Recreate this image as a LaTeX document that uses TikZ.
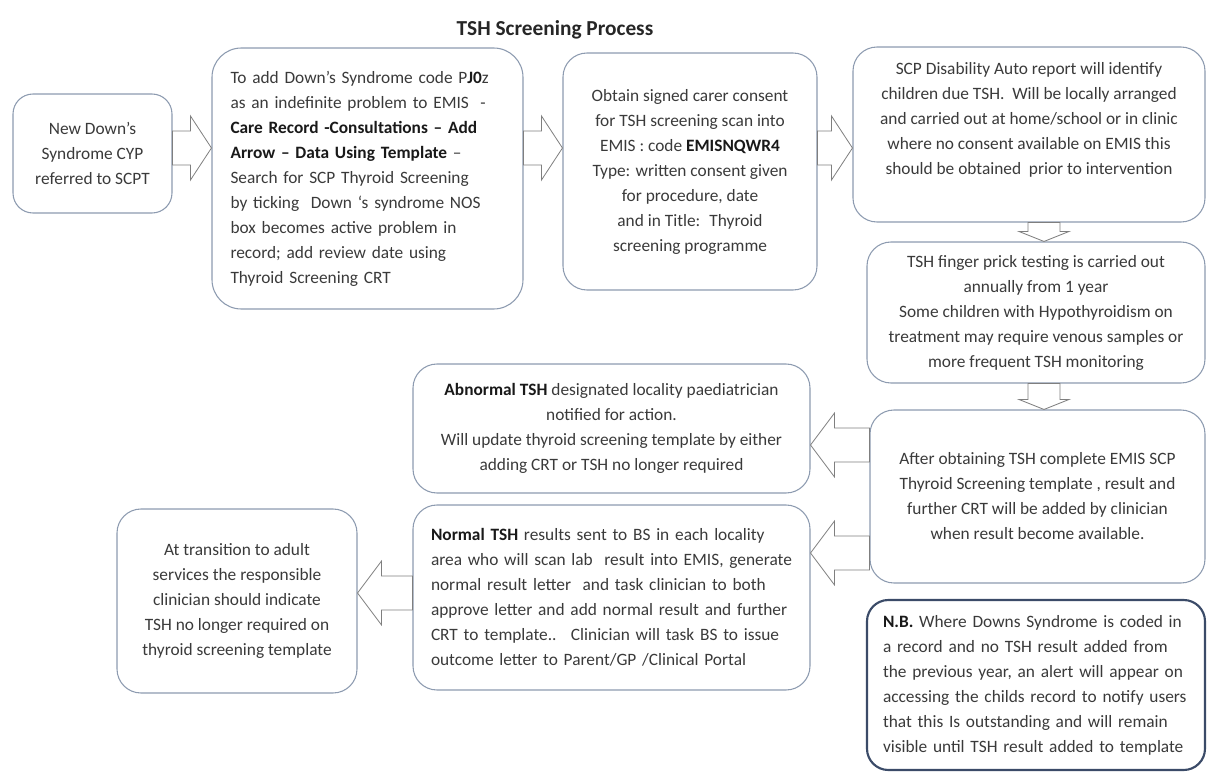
\documentclass[tikz,border=0pt]{standalone}
\usepackage{fontspec}
\setmainfont{Carlito}
\usetikzlibrary{calc}

\definecolor{boxline}{HTML}{8D9BB0}
\definecolor{arrowline}{HTML}{7F7F7F}
\definecolor{textgrey}{HTML}{3A3A3A}
\definecolor{nbline}{HTML}{3B4B68}

\newcommand{\boxfont}{\fontsize{13}{18.75}\selectfont}
\newcommand{\bfdark}[1]{\textbf{\color{black!90}#1}}

% block arrows between boxes: tail node, tip node, level coordinate
\newcommand{\rightblock}[3]{%
  \draw[blockarrow] ($(#1.east |- #3)+(0,-17)$) -- ($(#2.west |- #3)+(-21,-17)$) -- ++(0,-15)
    -- (#2.west |- #3) -- ++(-21,32) -- ++(0,-15) -- ($(#1.east |- #3)+(0,17)$) -- cycle;}
\newcommand{\leftblock}[3]{%
  \draw[blockarrow] ($(#1.west |- #3)+(0,-17)$) -- ($(#2.east |- #3)+(24,-17)$) -- ++(0,-15)
    -- (#2.east |- #3) -- ++(24,32) -- ++(0,-15) -- ($(#1.west |- #3)+(0,17)$) -- cycle;}
\newcommand{\downblock}[3]{%
  \draw[blockarrow] ($(#1.south -| #3)+(-16,0)$) -- ($(#2.north -| #3)+(-16,-10)$) -- ++(-9,0)
    -- (#2.north -| #3) -- ++(25,-10) -- ++(-9,0) -- ($(#1.south -| #3)+(16,0)$) -- cycle;}

\tikzset{
  box/.style={draw=boxline, line width=0.8pt, rounded corners=18pt, fill=white,
    text=textgrey, font=\boxfont, align=center, inner sep=0pt},
  leftbox/.style={box, align=left},
  boxsize/.style 2 args={minimum width={#1*0.75pt}, minimum height={#2*0.75pt}},
  blockarrow/.style={draw=arrowline, line width=0.6pt, fill=white, line join=miter},
}

\begin{document}
\begin{tikzpicture}[x=0.75pt,y=-0.75pt]
    \useasboundingbox (0,0) rectangle (1208,772);

    \node[font=\fontsize{16}{18}\selectfont\bfseries, text=black!85] (title) at (555,30) {TSH Screening Process};

    % top row
    \node[box, boxsize={159}{119}, rounded corners=15pt] (new) at (92.5,153.5)
        {New Down’s\\Syndrome CYP\\referred to SCPT};
    \node[leftbox, boxsize={311}{261}, text width={274*0.75pt}, rounded corners=22pt] (code) at (367.5,178.5)
        { To add Down’s Syndrome code P\bfdark{J0}z\\
          as an indefinite problem to EMIS~ -\\
          \bfdark{Care Record -Consultations – Add}\\
          \bfdark{Arrow – Data Using Template} –\\
          Search for SCP Thyroid Screening\\
          by ticking~ Down ‘s syndrome NOS\\
          box becomes active problem in\\
          record; add review date using\\
          Thyroid Screening CRT};
    \node[box, boxsize={254}{237}] (consent) at (690,171.5)
        {Obtain signed carer consent\\for TSH screening scan into\\EMIS : code \bfdark{EMISNQWR4}\\Type: written consent given\\for procedure, date\\and in Title:~ Thyroid\\screening programme};
    \node[box, boxsize={352}{175}] (report) at (1029,134.5)
        {SCP Disability Auto report will identify\\children due TSH.~ Will be locally arranged\\and carried out at home/school or in clinic\\where no consent available on EMIS this\\should be obtained~ prior to intervention\\[6pt]\mbox{}};

    % right column
    \node[box, boxsize={338}{141}] (fingerprick) at (1036,312.5)
        {TSH finger prick testing is carried out\\annually from 1 year\\Some children with Hypothyroidism on\\treatment may require venous samples or\\more frequent TSH monitoring};
    \node[box, boxsize={335}{173}] (complete) at (1037.5,496.5)
        {After obtaining TSH complete EMIS SCP\\Thyroid Screening template , result and\\further CRT will be added by clinician\\when result become available.};
    \node[leftbox, boxsize={338}{170}, text width={306*0.75pt}, draw=nbline, line width=1.6pt, rounded corners=16pt] (nb) at (1036,685)
        {\bfdark{N.B.} Where Downs Syndrome is coded in\\
         a record and no TSH result added from\\
         the previous year, an alert will appear on\\
         accessing the childs record to notify users\\
         that this Is outstanding and will remain\\
         visible until TSH result added to template};

    % results
    \node[box, boxsize={397}{129}] (abnormal) at (611.5,428.5)
        {\bfdark{Abnormal TSH} designated locality paediatrician\\notified for action.\\Will update thyroid screening template by either\\adding CRT or TSH no longer required};
    \node[leftbox, boxsize={397}{185}, text width={361*0.75pt}] (normal) at (611.5,597.5)
        {\bfdark{Normal TSH} results sent to BS in each locality\\
         area who will scan lab~ result into EMIS, generate\\
         normal result letter~ and task clinician to both\\
         approve letter and add normal result and further\\
         CRT to template..~ Clinician will task BS to issue\\
         outcome letter to Parent/GP /Clinical Portal};
    \node[box, boxsize={240}{184}] (transition) at (237,601)
        {At transition to adult\\services the responsible\\clinician should indicate\\TSH no longer required on\\thyroid screening template};

    % arrow levels
    \coordinate (toprow) at (0,148);
    \coordinate (abnrow) at (0,445);
    \coordinate (normrow) at (0,553);
    \coordinate (transrow) at (0,593);
    \coordinate (rightcol) at (1044,0);

    \rightblock{new}{code}{toprow}
    \rightblock{code}{consent}{toprow}
    \rightblock{consent}{report}{toprow}
    \downblock{report}{fingerprick}{rightcol}
    \downblock{fingerprick}{complete}{rightcol}
    \leftblock{complete}{abnormal}{abnrow}
    \leftblock{complete}{normal}{normrow}
    \leftblock{normal}{transition}{transrow}
\end{tikzpicture}
\end{document}
